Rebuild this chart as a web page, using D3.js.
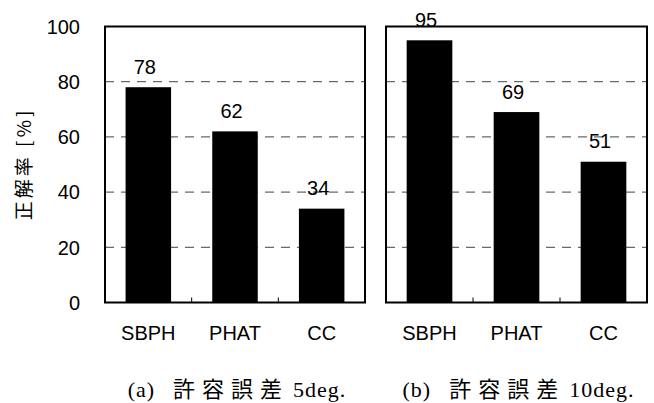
<!DOCTYPE html>
<html>
<head>
<meta charset="utf-8">
<script src="https://cdn.jsdelivr.net/npm/d3@7"></script>
<style>
  body { margin: 0; background: #fff; }
  text { font-family: "Liberation Sans", Arial, sans-serif; }
</style>
</head>
<body>
<div id="chart"></div>
<script>
// data
const categories = ["SBPH", "PHAT", "CC"];
const values5deg = [78, 62, 34];
const values10deg = [95, 69, 51];
const yTicks = [0, 20, 40, 60, 80, 100];
const captions = ["(a) 許容誤差 5deg.", "(b) 許容誤差 10deg."];

const width = 654, height = 403;
const plotTop = 26.5, plotBottom = 302.5;
const panels = [
  { x0: 105, x1: 365, values: values5deg, caption: captions[0], yLabels: true },
  { x0: 386, x1: 647, values: values10deg, caption: captions[1], yLabels: false }
];

const svg = d3.select("#chart").append("svg")
    .attr("width", width)
    .attr("height", height);

const y = d3.scaleLinear().domain([0, 100]).range([plotBottom, plotTop]);

// split a caption into words, flag the CJK ones
function words(s) {
  return s.split(" ").map(t => ({ t, cjk: /[\u3000-\u9fff]/.test(t) }));
}

panels.forEach(p => {
  const x = d3.scaleBand()
      .domain(categories)
      .range([p.x0, p.x1])
      .paddingInner(0.475)
      .paddingOuter(0.2375);

  const g = svg.append("g");

  // dashed gridlines
  g.selectAll("line.grid")
    .data(yTicks.filter(d => d > 0 && d < 100))
    .enter().append("line")
      .attr("class", "grid")
      .attr("x1", p.x0).attr("x2", p.x1)
      .attr("y1", d => y(d)).attr("y2", d => y(d))
      .attr("stroke", "#444")
      .attr("stroke-width", 1)
      .attr("stroke-dasharray", "9,7");

  // bars
  g.selectAll("rect")
    .data(p.values)
    .enter().append("rect")
      .attr("x", (d, i) => x(categories[i]))
      .attr("y", d => y(d))
      .attr("width", x.bandwidth())
      .attr("height", d => y(0) - y(d))
      .attr("fill", "#000");

  // value labels
  g.selectAll("text.val")
    .data(p.values)
    .enter().append("text")
      .attr("class", "val")
      .attr("x", (d, i) => x(categories[i]) + x.bandwidth() / 2 - 3.5)
      .attr("y", d => y(d) - 13.5)
      .attr("text-anchor", "middle")
      .attr("font-size", 20)
      .text(d => d);

  // x ticks between categories
  const step = x.step();
  g.selectAll("line.xt")
    .data([1, 2])
    .enter().append("line")
      .attr("class", "xt")
      .attr("x1", i => p.x0 + step * i).attr("x2", i => p.x0 + step * i)
      .attr("y1", plotBottom).attr("y2", plotBottom - 5)
      .attr("stroke", "#000")
      .attr("stroke-width", 1);

  // frame
  g.append("rect")
      .attr("x", p.x0).attr("y", plotTop)
      .attr("width", p.x1 - p.x0).attr("height", plotBottom - plotTop)
      .attr("fill", "none")
      .attr("stroke", "#000")
      .attr("stroke-width", 2);

  // category labels
  g.selectAll("text.cat")
    .data(categories)
    .enter().append("text")
      .attr("class", "cat")
      .attr("x", d => x(d) + x.bandwidth() / 2)
      .attr("y", 340)
      .attr("text-anchor", "middle")
      .attr("font-size", 20)
      .text(d => d);

  // y tick labels
  if (p.yLabels) {
    g.selectAll("text.yt")
      .data(yTicks)
      .enter().append("text")
        .attr("class", "yt")
        .attr("x", 80)
        .attr("y", d => y(d))
        .attr("dy", "0.36em")
        .attr("text-anchor", "end")
        .attr("font-size", 20)
        .text(d => d);
  }

  // caption: latin words tight, CJK word spaced out
  const cap = g.append("text")
      .attr("x", (p.x0 + p.x1) / 2 + 2)
      .attr("y", 397)
      .attr("text-anchor", "middle")
      .style("font-family", "'Liberation Serif', 'Noto Sans CJK JP', serif");
  const ws = words(p.caption);
  cap.selectAll("tspan")
    .data(ws)
    .enter().append("tspan")
      .attr("dx", (d, i) => i === 0 ? 0 : (ws[i - 1].cjk ? 4 : 18))
      .attr("font-size", d => d.cjk ? 22 : 22)
      .attr("letter-spacing", d => d.cjk ? "7px" : "1px")
      .text(d => d.t);
});

// y axis title
svg.append("text")
    .attr("transform", "translate(31,164) rotate(-90)")
    .attr("text-anchor", "middle")
    .attr("font-size", 19)
    .attr("letter-spacing", "3px")
    .style("font-family", "'Noto Sans CJK JP', sans-serif")
    .text("正解率 [%]");
</script>
</body>
</html>
